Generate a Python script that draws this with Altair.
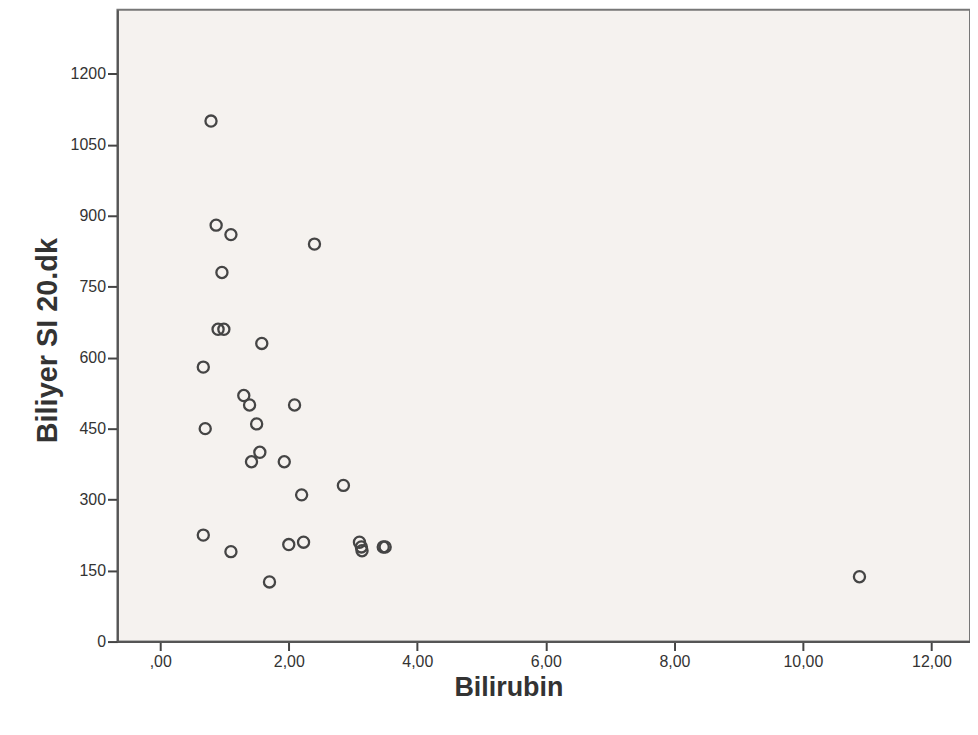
import altair as alt
import pandas as pd

bilirubin = [0.79, 0.87, 1.10, 2.40, 0.96, 0.90, 0.99, 1.58, 0.67, 1.30,
             1.39, 2.09, 1.50, 0.70, 1.55, 1.42, 1.93, 2.20, 2.85, 0.67,
             2.00, 2.23, 1.10, 3.10, 3.13, 3.14, 3.47, 3.50, 1.70, 10.88]
biliyer = [1100, 880, 860, 840, 780, 660, 660, 630, 580, 520,
           500, 500, 460, 450, 400, 380, 380, 310, 330, 225,
           205, 210, 190, 210, 200, 192, 200, 200, 126, 137]

df = pd.DataFrame({"Bilirubin": bilirubin, "Biliyer": biliyer})

x_ticks = [0, 2, 4, 6, 8, 10, 12]
y_ticks = [0, 150, 300, 450, 600, 750, 900, 1050, 1200]

FONT = "Liberation Sans"

chart = alt.Chart(df).mark_point(
    shape="circle", filled=False, size=125, strokeWidth=2.3, color="#454545", opacity=1
).encode(
    x=alt.X("Bilirubin:Q",
            scale=alt.Scale(domain=[-0.666, 12.6], nice=False, zero=False),
            axis=alt.Axis(values=x_ticks, title="Bilirubin",
                          labelExpr="datum.value == 0 ? ',00' : replace(format(datum.value, '.2f'), '.', ',')",
                          grid=False, tickSize=9, tickWidth=2, tickColor="#444",
                          domainColor="#555", domainWidth=2,
                          labelFont=FONT, labelFontSize=16, labelColor="#333", labelPadding=3,
                          titleFont=FONT, titleFontSize=27, titleFontWeight="bold",
                          titleColor="#333", titlePadding=5,
                          titleX=393, titleAlign="center")),
    y=alt.Y("Biliyer:Q",
            scale=alt.Scale(domain=[0, 1335], nice=False, zero=True),
            axis=alt.Axis(values=y_ticks, title="Biliyer SI 20.dk", format="d",
                          grid=False, tickSize=10, tickWidth=2, tickColor="#444",
                          domainColor="#555", domainWidth=2,
                          labelFont=FONT, labelFontSize=16, labelColor="#333", labelPadding=2,
                          titleFont=FONT, titleFontSize=29, titleFontWeight="bold",
                          titleColor="#333", titlePadding=8,
                          titleY=332, titleAlign="center")),
).properties(
    width=857, height=635,
    autosize=alt.AutoSizeParams(type="none"),
    padding={"left": 110, "top": 0, "right": 0, "bottom": 80},
    background="white",
).configure_view(
    fill="#f5f2ef", stroke="#777", strokeWidth=2
)

chart.save("out.html", embed_options={"renderer": "svg", "actions": False})
